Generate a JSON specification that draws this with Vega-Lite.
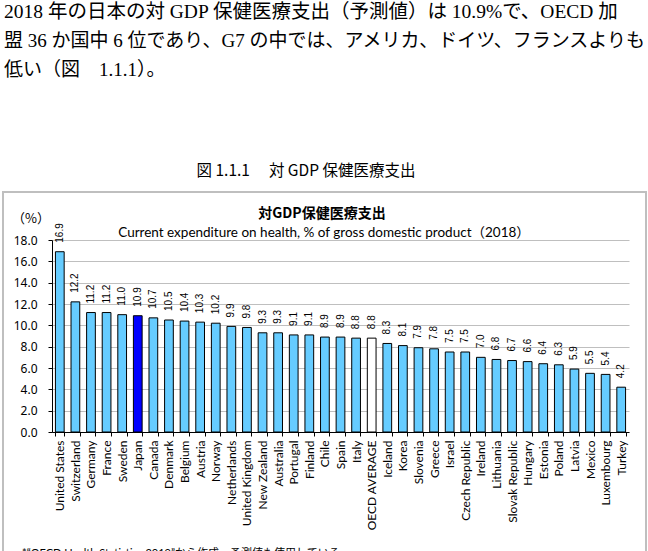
{
  "$schema": "https://vega.github.io/schema/vega-lite/v6.json",
  "width": 577,
  "height": 192,
  "autosize": {"type": "none"},
  "padding": {"left": 52, "top": 240, "right": 19, "bottom": 119},
  "background": "white",
  "config": {"view": {"stroke": null}},
  "datasets": {
    "spending": [
      {"country": "United States", "value": 16.9, "group": "country"},
      {"country": "Switzerland", "value": 12.2, "group": "country"},
      {"country": "Germany", "value": 11.2, "group": "country"},
      {"country": "France", "value": 11.2, "group": "country"},
      {"country": "Sweden", "value": 11.0, "group": "country"},
      {"country": "Japan", "value": 10.9, "group": "japan"},
      {"country": "Canada", "value": 10.7, "group": "country"},
      {"country": "Denmark", "value": 10.5, "group": "country"},
      {"country": "Belgium", "value": 10.4, "group": "country"},
      {"country": "Austria", "value": 10.3, "group": "country"},
      {"country": "Norway", "value": 10.2, "group": "country"},
      {"country": "Netherlands", "value": 9.9, "group": "country"},
      {"country": "United Kingdom", "value": 9.8, "group": "country"},
      {"country": "New Zealand", "value": 9.3, "group": "country"},
      {"country": "Australia", "value": 9.3, "group": "country"},
      {"country": "Portugal", "value": 9.1, "group": "country"},
      {"country": "Finland", "value": 9.1, "group": "country"},
      {"country": "Chile", "value": 8.9, "group": "country"},
      {"country": "Spain", "value": 8.9, "group": "country"},
      {"country": "Italy", "value": 8.8, "group": "country"},
      {"country": "OECD AVERAGE", "value": 8.8, "group": "average"},
      {"country": "Iceland", "value": 8.3, "group": "country"},
      {"country": "Korea", "value": 8.1, "group": "country"},
      {"country": "Slovenia", "value": 7.9, "group": "country"},
      {"country": "Greece", "value": 7.8, "group": "country"},
      {"country": "Israel", "value": 7.5, "group": "country"},
      {"country": "Czech Republic", "value": 7.5, "group": "country"},
      {"country": "Ireland", "value": 7.0, "group": "country"},
      {"country": "Lithuania", "value": 6.8, "group": "country"},
      {"country": "Slovak Republic", "value": 6.7, "group": "country"},
      {"country": "Hungary", "value": 6.6, "group": "country"},
      {"country": "Estonia", "value": 6.4, "group": "country"},
      {"country": "Poland", "value": 6.3, "group": "country"},
      {"country": "Latvia", "value": 5.9, "group": "country"},
      {"country": "Mexico", "value": 5.5, "group": "country"},
      {"country": "Luxembourg", "value": 5.4, "group": "country"},
      {"country": "Turkey", "value": 4.2, "group": "country"}
    ],
    "single": [{}]
  },
  "layer": [
    {
      "data": {"name": "spending"},
      "encoding": {
        "x": {
          "field": "country",
          "type": "nominal",
          "sort": null,
          "scale": {"paddingInner": 0.44, "paddingOuter": 0.22},
          "axis": {
            "title": null,
            "labelAngle": -90,
            "labelAlign": "right",
            "labelBaseline": "middle",
            "labelFont": "Lato",
            "labelFontSize": 12,
            "labelColor": "#000000",
            "labelPadding": 4,
            "tickBand": "extent",
            "tickSize": 4,
            "tickColor": "#000000",
            "domainColor": "#000000",
            "domainWidth": 1,
            "grid": false
          }
        },
        "y": {
          "field": "value",
          "type": "quantitative",
          "scale": {"domain": [0, 18], "nice": false},
          "axis": {
            "title": null,
            "values": [0, 2, 4, 6, 8, 10, 12, 14, 16, 18],
            "tickCount": 10,
            "format": ".1f",
            "labelOverlap": false,
            "labelFont": "Noto Sans",
            "labelFontSize": 12,
            "labelColor": "#000000",
            "labelPadding": 11,
            "tickSize": 4,
            "tickColor": "#000000",
            "domainColor": "#000000",
            "grid": true,
            "gridColor": "#bfbfbf",
            "gridWidth": 1
          }
        }
      },
      "layer": [
        {
          "mark": {"type": "bar", "stroke": "#000000", "strokeWidth": 1},
          "encoding": {
            "fill": {
              "field": "group",
              "type": "nominal",
              "scale": {"domain": ["country", "japan", "average"], "range": ["#66ccff", "#0000ff", "#ffffff"]},
              "legend": null
            }
          }
        },
        {
          "mark": {"type": "text", "angle": -90, "align": "left", "baseline": "middle", "dx": 9, "font": "Liberation Sans", "fontSize": 10, "color": "#000000"},
          "encoding": {
            "text": {"field": "value", "type": "quantitative", "format": ".1f"}
          }
        }
      ]
    },
    {
      "data": {"name": "single"},
      "layer": [
        {
          "mark": {"type": "rect", "x": -49, "x2": 594, "y": -48, "y2": 400, "fill": null, "stroke": "#bfbfbf", "strokeWidth": 2, "clip": false},
          "encoding": {}
        },
        {
          "mark": {"type": "text", "text": "対GDP保健医療支出", "x": 270, "y": -26, "align": "center", "baseline": "middle", "font": "Noto Sans CJK JP", "fontSize": 14, "fontWeight": "bold", "color": "#000000"},
          "encoding": {}
        },
        {
          "mark": {"type": "text", "text": "Current expenditure on health, % of gross domestic product（2018）", "x": 272, "y": -7, "align": "center", "baseline": "middle", "font": "Lato, Noto Sans CJK JP", "fontSize": 13.5, "color": "#000000"},
          "encoding": {}
        },
        {
          "mark": {"type": "text", "text": "（%）", "x": -21, "y": -21, "align": "center", "baseline": "middle", "font": "Noto Sans CJK JP", "fontSize": 13, "color": "#000000"},
          "encoding": {}
        },
        {
          "mark": {"type": "text", "text": "図 1.1.1　 対 GDP 保健医療支出", "x": 254, "y": -69, "align": "center", "baseline": "middle", "font": "Noto Sans CJK JP", "fontSize": 15.5, "color": "#000000"},
          "encoding": {}
        },
        {
          "mark": {"type": "text", "text": "　2018 年の日本の対 GDP 保健医療支出（予測値）は 10.9%で、OECD 加", "x": -48, "y": -228, "align": "left", "baseline": "middle", "font": "Liberation Serif, Noto Sans CJK JP", "fontSize": 19.5, "color": "#000000"},
          "encoding": {}
        },
        {
          "mark": {"type": "text", "text": "盟 36 か国中 6 位であり、G7 の中では、アメリカ、ドイツ、フランスよりも", "x": -48, "y": -199, "align": "left", "baseline": "middle", "font": "Liberation Serif, Noto Sans CJK JP", "fontSize": 19, "color": "#000000"},
          "encoding": {}
        },
        {
          "mark": {"type": "text", "text": "低い（図　1.1.1）。", "x": -48, "y": -170, "align": "left", "baseline": "middle", "font": "Liberation Serif, Noto Sans CJK JP", "fontSize": 19, "color": "#000000"},
          "encoding": {}
        },
        {
          "mark": {"type": "text", "text": "*“OECD Health Statistics 2019”から作成。予測値も使用している。", "x": -30, "y": 308, "align": "left", "baseline": "top", "font": "Lato, Noto Sans CJK JP", "fontSize": 11, "color": "#000000"},
          "encoding": {}
        }
      ]
    }
  ]
}
